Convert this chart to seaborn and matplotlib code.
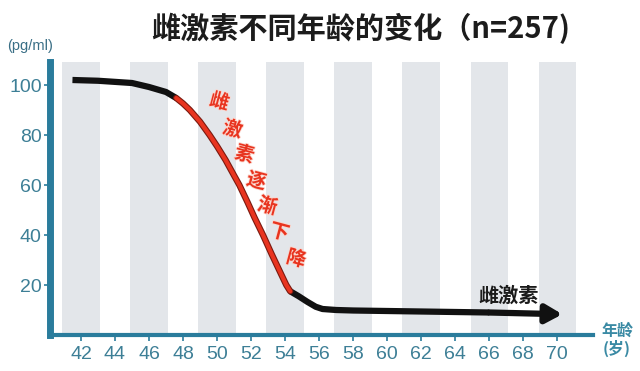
import matplotlib
matplotlib.use("Agg")
import matplotlib.pyplot as plt
import matplotlib.patheffects as pe
import seaborn as sns
import pandas as pd

# ---- data ----
title = "雌激素不同年龄的变化（n=257)"
unit_label = "(pg/ml)"
x_label = "年龄\n(岁)"
decline_label = "雌激素逐渐下降"
series_label = "雌激素"

x_ticks = [42, 44, 46, 48, 50, 52, 54, 56, 58, 60, 62, 64, 66, 68, 70]
y_ticks = [20, 40, 60, 80, 100]
stripe_centers = [42, 46, 50, 54, 58, 62, 66, 70]

ages_early = [41.5, 43.0, 45.0, 46.0, 47.0, 47.6]
vals_early = [102.0, 101.7, 100.8, 99.2, 97.2, 94.8]

ages_decline = [47.6, 48.0, 48.4, 49.0, 49.56, 50.0, 50.5, 51.0, 51.31, 51.8, 52.2,
                52.7, 53.2, 53.7, 54.07, 54.3]
vals_decline = [94.8, 92.6, 90.0, 85.3, 80.0, 75.5, 70.0, 63.8, 60.0, 53.0, 47.0,
                40.0, 32.5, 25.3, 20.0, 17.5]

ages_late = [54.3, 54.8, 55.3, 55.8, 56.2, 57.0, 58.0, 62.0, 66.0, 70.3]
vals_late = [17.5, 15.5, 13.3, 11.3, 10.4, 10.0, 9.8, 9.4, 9.0, 8.3]

decline_char_ages = [50.14, 50.91, 51.61, 52.31, 52.96, 53.66, 54.65]
decline_char_vals = [93.2, 82.1, 72.1, 61.4, 51.4, 41.0, 30.3]

# ---- style ----
sns.set_theme(style="white")
plt.rcParams["font.family"] = ["Noto Sans CJK SC", "DejaVu Sans"]

axis_col = "#2a7c9c"
tick_col = "#3d7f96"

fig = plt.figure(figsize=(6.4, 3.71), dpi=100)
ax = fig.add_axes([50 / 640, 36 / 371, 543 / 640, 273 / 371])

for c in stripe_centers:
    ax.axvspan(c - 1.1, c + 1.1, color="#e3e6ea", lw=0, zorder=0)

df_e = pd.DataFrame({"age": ages_early, "val": vals_early})
df_d = pd.DataFrame({"age": ages_decline, "val": vals_decline})
df_l = pd.DataFrame({"age": ages_late, "val": vals_late})

sns.lineplot(data=df_e, x="age", y="val", ax=ax, color="#111111", lw=4.5,
             sort=False, estimator=None, solid_capstyle="butt", zorder=3)
sns.lineplot(data=df_d, x="age", y="val", ax=ax, color="#e8341f", lw=3.0,
             sort=False, estimator=None, zorder=4,
             path_effects=[pe.Stroke(linewidth=4.6, foreground="#7a1a10"), pe.Normal()])
sns.lineplot(data=df_l.iloc[:-1], x="age", y="val", ax=ax, color="#111111", lw=4.5,
             sort=False, estimator=None, solid_capstyle="butt", zorder=3)
ax.annotate("", xy=(ages_late[-1], vals_late[-1]), xytext=(ages_late[-2], vals_late[-2]),
            arrowprops=dict(arrowstyle="-|>,head_length=0.8,head_width=0.45",
                            color="#111111", lw=4.5, shrinkA=0, shrinkB=0), zorder=3)

# red characters stacked along the decline
for ch, xx, yy in zip(decline_label, decline_char_ages, decline_char_vals):
    ax.text(xx, yy, ch, color="#e8341f", fontsize=14, fontweight="bold",
            rotation=-15, ha="center", va="center", zorder=5,
            path_effects=[pe.withStroke(linewidth=1.2, foreground="#fbd5cc")])

ax.text(67.15, 15.9, series_label, color="#1a1a1a", fontsize=14.5, fontweight="bold",
        ha="center", va="center", zorder=5)

ax.set_xlim(40.18, 72.1)
ax.set_ylim(0, 109.2)
ax.set_xticks(x_ticks)
ax.set_yticks(y_ticks)
ax.set_xticklabels([str(t) for t in x_ticks], family=["Liberation Sans", "DejaVu Sans"])
ax.set_yticklabels([str(t) for t in y_ticks], family=["Liberation Sans", "DejaVu Sans"])
ax.tick_params(axis="both", colors=axis_col, labelcolor=tick_col, labelsize=14,
               length=4, width=1.2, direction="out", bottom=True, left=True)
ax.tick_params(axis="x", pad=4)
ax.tick_params(axis="y", pad=2)
ax.set_xlabel("")
ax.set_ylabel("")

for s in ["top", "right"]:
    ax.spines[s].set_visible(False)
ax.spines["left"].set_color(axis_col)
ax.spines["left"].set_linewidth(5)
ax.spines["bottom"].set_color(axis_col)
ax.spines["bottom"].set_linewidth(3)
ax.set_facecolor("white")
ax.grid(False)

fig.text(361 / 640, 1 - 28 / 371, title, ha="center", va="center", fontsize=21,
         fontweight="bold", color="#1c1c1c")
fig.text(30 / 640, 1 - 46 / 371, unit_label, ha="center", va="center", fontsize=10.5,
         color="#3a6f86", family=["Liberation Sans", "DejaVu Sans"])
fig.text(617 / 640, 1 - 340 / 371, x_label, ha="center", va="center", fontsize=11.5,
         color="#3a8aa4", linespacing=1.05, fontweight="bold")

fig.savefig("out.png", dpi=100)
